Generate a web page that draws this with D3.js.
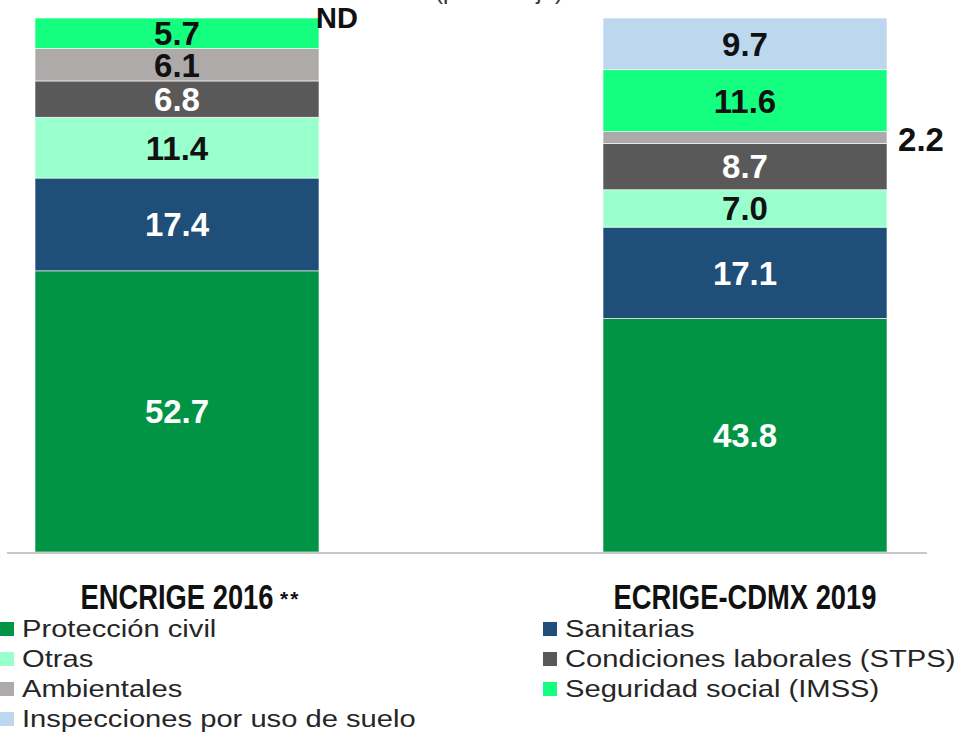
<!DOCTYPE html>
<meta charset="utf-8">
<script src="https://d3js.org/d3.v7.min.js"></script>
<style>
  body { margin: 0; background: #fff; }
  svg { display: block; }
</style>
<div id="my_dataviz"></div>
<script>
// data
var categories = ["ENCRIGE 2016", "ECRIGE-CDMX 2019"];
var seriesNames = ["Protección civil", "Sanitarias", "Otras", "Condiciones laborales (STPS)",
                   "Ambientales", "Seguridad social (IMSS)", "Inspecciones por uso de suelo"];
var proteccion   = [52.7, 43.8];
var sanitarias   = [17.4, 17.1];
var otras        = [11.4, 7.0];
var condiciones  = [6.8, 8.7];
var ambientales  = [6.1, 2.2];
var seguridad    = [5.7, 11.6];
var inspecciones = [null, 9.7];
var seriesValues = [proteccion, sanitarias, otras, condiciones, ambientales, seguridad, inspecciones];

var colors = ["#009444", "#1f4e79", "#99ffcc", "#595959", "#aeaaaa", "#14ff80", "#bdd7ee"];
var labelColors = ["#fff", "#fff", "#111", "#fff", "#111", "#111", "#111"];

var width = 961, height = 735;

var svg = d3.select("#my_dataviz")
  .append("svg")
    .attr("width", width)
    .attr("height", height);

// title, cut off at the top like in the source
svg.append("text")
    .attr("x", 499)
    .attr("y", -1)
    .attr("text-anchor", "middle")
    .style("font-family", "Liberation Sans, Arial, sans-serif")
    .style("font-size", "24px")
    .style("fill", "#333")
    .text("(porcentaje)");

var x = d3.scaleBand()
  .domain(categories)
  .range([35, 887])
  .paddingInner(0.5);

var y = d3.scaleLinear()
  .domain([0, 100.1])
  .range([552, 18]);

// stacked rows
var rows = categories.map(function(c, i) {
  var r = { cat: c };
  seriesNames.forEach(function(s, j) { r[s] = seriesValues[j][i] || 0; });
  return r;
});
var stacked = d3.stack().keys(seriesNames)(rows);

var groups = svg.selectAll(".serie")
  .data(stacked)
  .enter().append("g")
    .attr("class", "serie")
    .attr("fill", function(d, i) { return colors[i]; });

groups.selectAll("rect")
  .data(function(d) { return d.filter(function(p) { return p[1] > p[0]; }); })
  .enter().append("rect")
    .attr("x", function(d) { return x(d.data.cat); })
    .attr("y", function(d) { return y(d[1]); })
    .attr("width", x.bandwidth())
    .attr("height", function(d) { return y(d[0]) - y(d[1]); })
    .attr("stroke", "#fff")
    .attr("stroke-width", 0.6);

// value labels
stacked.forEach(function(layer, j) {
  layer.forEach(function(p, i) {
    var v = seriesValues[j][i];
    if (v == null) return;
    var outside = v < 3; // too thin, label goes right of the bar
    svg.append("text")
      .attr("x", outside ? x(categories[i]) + x.bandwidth() + 34 : x(categories[i]) + x.bandwidth() / 2)
      .attr("y", (y(p[0]) + y(p[1])) / 2 + (outside ? 2 : 0))
      .attr("dy", "0.36em")
      .attr("text-anchor", "middle")
      .style("font-family", "Liberation Sans, Arial, sans-serif")
      .style("font-weight", "bold")
      .style("font-size", "33px")
      .style("fill", outside ? "#111" : labelColors[j])
      .text(v.toFixed(1));
  });
});

// ND for the missing value
svg.append("text")
    .attr("x", x(categories[0]) + x.bandwidth() + 18)
    .attr("y", y(100.1))
    .attr("dy", "0.36em")
    .attr("text-anchor", "middle")
    .style("font-family", "Liberation Sans, Arial, sans-serif")
    .style("font-weight", "bold")
    .style("font-size", "29px")
    .style("fill", "#111")
    .text("ND");

// baseline
svg.append("line")
    .attr("x1", 7).attr("x2", 927)
    .attr("y1", y(0) + 1).attr("y2", y(0) + 1)
    .attr("stroke", "#c8c8c8")
    .attr("stroke-width", 2);

// category labels (condensed)
svg.selectAll(".cat")
  .data(categories)
  .enter().append("text")
    .attr("class", "cat")
    .attr("transform", function(d) {
      return "translate(" + (x(d) + x.bandwidth() / 2) + ",609) scale(0.76,1)";
    })
    .attr("text-anchor", "middle")
    .style("font-family", "Liberation Sans, Arial, sans-serif")
    .style("font-weight", "bold")
    .style("font-size", "36px")
    .style("fill", "#111")
    .text(function(d) { return d; });

svg.append("text")
    .attr("x", 280)
    .attr("y", 606)
    .style("font-family", "Liberation Sans, Arial, sans-serif")
    .style("font-weight", "bold")
    .style("font-size", "21px")
    .style("letter-spacing", "2px")
    .style("fill", "#111")
    .text("**");

// legend
var legend = svg.selectAll(".legend")
  .data(seriesNames)
  .enter().append("g")
    .attr("class", "legend")
    .attr("transform", function(d, i) {
      return "translate(" + (i % 2 === 0 ? 0 : 543) + "," + (629 + Math.floor(i / 2) * 30) + ")";
    });

legend.append("rect")
    .attr("x", 0)
    .attr("y", -7)
    .attr("width", 14)
    .attr("height", 14)
    .style("fill", function(d, i) { return colors[i]; });

legend.append("text")
    .attr("transform", "translate(22,0) scale(1.215,1)")
    .attr("dy", "0.33em")
    .style("font-family", "Liberation Sans, Arial, sans-serif")
    .style("font-size", "24px")
    .style("fill", "#262626")
    .text(function(d) { return d; });
</script>
